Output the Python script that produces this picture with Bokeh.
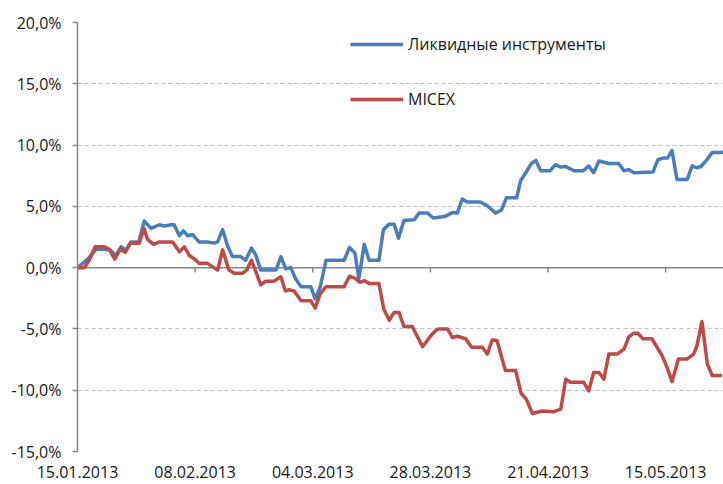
import pandas as pd
from bokeh.plotting import figure
from bokeh.models import (Range1d, FixedTicker, CustomJSTickFormatter, Span, Legend,
                          LegendItem, DatetimeTickFormatter)
from bokeh.embed import file_html
from bokeh.resources import INLINE

# ---------------- data ----------------
start_date = "2013-01-15"
end_offset_days = 131.8
tick_dates = ["2013-01-15", "2013-02-08", "2013-03-04", "2013-03-28", "2013-04-21", "2013-05-15"]
y_ticks = [-15, -10, -5, 0, 5, 10, 15, 20]
series_names = ["Ликвидные инструменты", "MICEX"]

# days since 15.01.2013, value in %
blue_days = [0.0, 2.1, 3.8, 5.8, 6.8, 7.8, 8.9, 9.9, 10.9, 12.5, 13.6, 15.0, 16.7, 17.7, 19.1, 19.7,
             20.8, 21.6, 22.5, 23.5, 24.8, 26.5, 27.9, 28.6, 29.6, 30.6, 31.6, 33.3, 34.3, 35.5, 36.4,
             37.4, 40.5, 41.5, 42.5, 43.5, 44.5, 45.6, 47.6, 48.5, 49.5, 50.7, 54.4, 55.5, 56.6, 57.4,
             58.5, 59.5, 61.5, 62.4, 63.6, 64.6, 65.5, 66.6, 68.7, 69.7, 71.4, 72.6, 75.1, 76.5, 77.5,
             78.5, 79.5, 82.2, 83.6, 85.3, 86.5, 87.5, 89.6, 90.4, 91.4, 92.6, 93.5, 94.5, 96.4, 97.5,
             98.6, 99.6, 101.3, 103.2, 104.3, 105.3, 106.4, 108.4, 110.4, 111.5, 112.4, 113.5, 117.4,
             118.4, 119.6, 120.4, 121.3, 122.3, 124.4, 125.4, 126.3, 127.2, 128.3, 129.5, 131.5, 131.8]
blue_values = [0.0, 0.7, 1.5, 1.5, 1.4, 1.0, 1.7, 1.4, 2.1, 2.1, 3.8, 3.2, 3.5, 3.4, 3.5, 3.5,
               2.6, 3.0, 2.6, 2.7, 2.1, 2.1, 2.0, 2.1, 3.1, 1.8, 0.9, 0.9, 0.6, 1.6, 1.0,
               -0.2, -0.2, 0.9, -0.1, 0.0, -0.9, -1.55, -1.55, -2.55, -1.6, 0.6, 0.6, 1.65, 1.2, -0.9,
               1.9, 0.6, 0.6, 3.1, 3.55, 3.55, 2.4, 3.85, 3.9, 4.45, 4.45, 4.05, 4.2, 4.5, 4.45,
               5.6, 5.35, 5.35, 5.05, 4.45, 4.7, 5.7, 5.7, 7.1, 7.7, 8.5, 8.75, 7.9, 7.9, 8.4,
               8.2, 8.25, 7.9, 7.9, 8.3, 7.75, 8.7, 8.5, 8.5, 7.9, 8.0, 7.75, 7.8,
               8.8, 8.95, 8.95, 9.55, 7.2, 7.2, 8.3, 8.15, 8.25, 8.75, 9.4, 9.4, 9.45]

red_days = [0.0, 1.4, 2.4, 3.6, 5.5, 6.5, 7.6, 8.7, 9.7, 10.8, 12.6, 13.6, 14.3, 15.5, 16.7, 19.4,
            20.8, 21.8, 22.8, 24.2, 24.8, 26.5, 28.6, 29.6, 30.9, 32.0, 33.7, 34.5, 35.5, 37.4, 38.4,
            40.1, 41.5, 42.4, 43.2, 44.2, 45.6, 47.6, 48.5, 49.5, 50.7, 54.4, 55.5, 56.6, 57.6, 58.5,
            59.5, 61.5, 62.5, 63.6, 64.6, 65.6, 66.6, 68.3, 70.4, 72.4, 73.5, 75.5, 76.5, 77.5, 79.2,
            80.4, 82.6, 83.6, 84.6, 85.6, 87.3, 89.4, 90.5, 91.6, 92.8, 94.8, 97.2, 98.6, 99.6, 100.6,
            103.3, 104.3, 105.3, 106.4, 107.4, 108.4, 110.1, 111.5, 112.5, 113.5, 114.3, 115.4, 117.2,
            119.3, 120.3, 121.3, 122.6, 124.4, 125.7, 126.4, 127.4, 128.5, 129.5, 131.5]
red_values = [0.0, 0.0, 0.6, 1.7, 1.7, 1.5, 0.7, 1.5, 1.25, 2.0, 2.0, 3.2, 2.3, 1.9, 2.1, 2.1,
              1.3, 1.7, 1.0, 0.6, 0.35, 0.35, -0.2, 1.45, -0.2, -0.45, -0.45, -0.2, 0.6, -1.4, -1.1,
              -1.1, -0.75, -1.9, -1.8, -1.9, -2.7, -2.7, -3.3, -2.15, -1.55, -1.55, -0.7, -0.85, -1.2, -1.05,
              -1.3, -1.3, -3.4, -4.3, -3.65, -3.65, -4.8, -4.8, -6.45, -5.4, -5.0, -5.0, -5.7, -5.6, -5.8,
              -6.5, -6.5, -7.05, -5.9, -5.95, -8.4, -8.4, -10.25, -10.75, -11.9, -11.7, -11.75, -11.55, -9.1, -9.35,
              -9.35, -10.05, -8.55, -8.55, -9.1, -7.05, -7.05, -6.65, -5.65, -5.35, -5.35, -5.8, -5.8,
              -7.2, -8.15, -9.3, -7.45, -7.45, -7.05, -6.35, -4.4, -7.85, -8.8, -8.8]

# ---------------- build ----------------
t0 = pd.Timestamp(start_date)
blue_x = t0 + pd.to_timedelta(blue_days, unit="D")
red_x = t0 + pd.to_timedelta(red_days, unit="D")
tick_ts = pd.to_datetime(tick_dates)
tick_ms = [float(t.value // 10**6) for t in tick_ts]

FONT = "Open Sans"
TEXT_COLOR = "#1a1a1a"
AXIS_COLOR = "#868686"

p = figure(width=723, height=484, x_axis_type="datetime",
           x_range=Range1d(t0, t0 + pd.Timedelta(days=end_offset_days)),
           y_range=Range1d(y_ticks[0], y_ticks[-1]),
           output_backend="svg", toolbar_location=None,
           min_border_left=77, min_border_right=0, min_border_top=22, min_border_bottom=33)
p.outline_line_color = None
p.background_fill_color = "white"

# y axis
p.yaxis.ticker = FixedTicker(ticks=y_ticks)
p.yaxis.formatter = CustomJSTickFormatter(code="return tick.toFixed(1).replace('.', ',') + '%';")
p.yaxis.axis_line_color = AXIS_COLOR
p.yaxis.axis_line_width = 1.5
p.yaxis.major_tick_line_color = AXIS_COLOR
p.yaxis.major_tick_line_width = 1.5
p.yaxis.major_tick_out = 5
p.yaxis.major_tick_in = 0
p.yaxis.minor_tick_line_color = None
p.yaxis.major_label_standoff = 11
p.yaxis.major_label_text_font = FONT
p.yaxis.major_label_text_font_size = "16px"
p.yaxis.major_label_text_color = TEXT_COLOR

# x axis (labels only, at the bottom)
p.xaxis.ticker = FixedTicker(ticks=tick_ms)
fmt = "%d.%m.%Y"
p.xaxis.formatter = DatetimeTickFormatter(days=fmt, months=fmt, years=fmt, hours=fmt,
                                          hourmin=fmt, minutes=fmt, minsec=fmt, seconds=fmt,
                                          milliseconds=fmt, microseconds=fmt)
p.xaxis.axis_line_color = None
p.xaxis.major_tick_line_color = None
p.xaxis.minor_tick_line_color = None
p.xaxis.major_tick_out = 0
p.xaxis.major_tick_in = 0
p.xaxis.major_label_standoff = 14
p.xaxis.major_label_text_font = FONT
p.xaxis.major_label_text_font_size = "16px"
p.xaxis.major_label_text_color = TEXT_COLOR

# grid
p.xgrid.grid_line_color = None
p.ygrid.grid_line_color = "#bfbfbf"
p.ygrid.grid_line_dash = "4 3"
p.ygrid.grid_line_width = 1

# zero line with ticks
zero = Span(location=0, dimension="width", line_color=AXIS_COLOR, line_width=1.5, level="underlay")
p.add_layout(zero)
p.segment(x0=tick_ts, y0=[0] * len(tick_ts), x1=tick_ts, y1=[-0.4] * len(tick_ts),
          line_color=AXIS_COLOR, line_width=1.5)

rb = p.line(blue_x, blue_values, line_color="#4a7ebb", line_width=3.5, line_join="round")
rr = p.line(red_x, red_values, line_color="#be4b48", line_width=3.5, line_join="round")

legend = Legend(items=[LegendItem(label=series_names[0], renderers=[rb]),
                       LegendItem(label=series_names[1], renderers=[rr])],
                location=(273, 341), orientation="vertical",
                glyph_width=53, glyph_height=20, label_height=20, spacing=33,
                padding=0, margin=0, label_standoff=5,
                border_line_color=None, background_fill_alpha=0,
                label_text_font=FONT, label_text_font_size="16px", label_text_color=TEXT_COLOR)
p.add_layout(legend)

open("out.html", "w").write(file_html(p, INLINE))
